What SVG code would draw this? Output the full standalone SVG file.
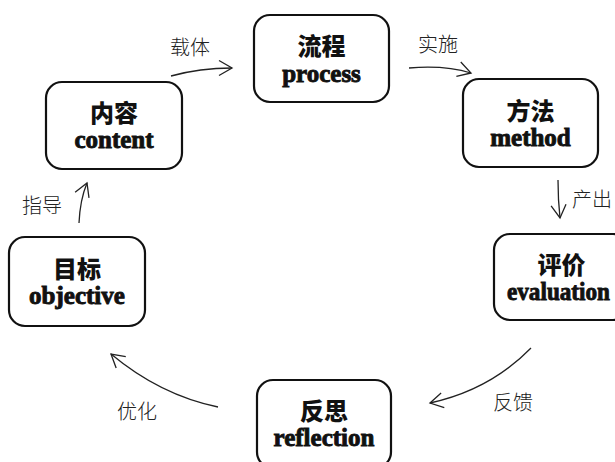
<svg xmlns="http://www.w3.org/2000/svg" width="615" height="462" viewBox="0 0 615 462">
<style>
.box{fill:#fff;stroke:#111;stroke-width:2.2}
.zh{font-family:"Noto Sans CJK SC",sans-serif;font-weight:900;font-size:24px;fill:#111;text-anchor:middle}
.en{font-family:"Liberation Serif","Times New Roman",serif;font-weight:700;font-size:25px;fill:#111;stroke:#111;stroke-width:0.9;text-anchor:middle}
.lbl{font-family:"Noto Sans CJK SC",sans-serif;font-weight:300;font-size:20px;fill:#222}
.edge{fill:none;stroke:#222;stroke-width:1.3}
</style>
<defs>
<marker id="ah" markerUnits="userSpaceOnUse" markerWidth="20" markerHeight="20" refX="0" refY="0" viewBox="-15 -10 17 20" orient="auto" overflow="visible">
<path d="M-13,-7.5 L0,0 L-13,7.5" fill="none" stroke="#222" stroke-width="1.3" stroke-linejoin="miter"/>
</marker>
</defs>
<rect width="615" height="462" fill="#fff"/>
<g id="connectors">
<path class="edge" d="M171,76 Q200,68 232,68" marker-end="url(#ah)"/>
<path class="edge" d="M409,68 Q445,65 471,73" marker-end="url(#ah)"/>
<path class="edge" d="M558,180 Q558,200 560,218" marker-end="url(#ah)"/>
<path class="edge" d="M79,223 Q80,200 87,183" marker-end="url(#ah)"/>
<path class="edge" d="M531,348 Q490,390 430,403" marker-end="url(#ah)"/>
<path class="edge" d="M218,407 Q160,395 111,354" marker-end="url(#ah)"/>
<text class="lbl" x="170" y="55">载体</text>
<text class="lbl" x="418" y="52">实施</text>
<text class="lbl" x="572" y="207">产出</text>
<text class="lbl" x="22" y="213">指导</text>
<text class="lbl" x="117" y="419">优化</text>
<text class="lbl" x="493" y="410">反馈</text>
</g>
<g id="content">
<rect class="box" x="46" y="82" width="136" height="87" rx="16"/>
<text class="zh" x="114" y="122">内容</text>
<text class="en" x="114" y="148">content</text>
</g>
<g id="process">
<rect class="box" x="254" y="15" width="135" height="87" rx="16"/>
<text class="zh" x="321.5" y="55">流程</text>
<text class="en" x="321.5" y="82">process</text>
</g>
<g id="method">
<rect class="box" x="463" y="79" width="135" height="88" rx="16"/>
<text class="zh" x="530.5" y="120">方法</text>
<text class="en" x="530.5" y="146">method</text>
</g>
<g id="evaluation">
<rect class="box" x="494" y="234" width="135" height="86" rx="16"/>
<text class="zh" x="561.5" y="274">评价</text>
<text class="en" x="507" y="300" style="text-anchor:start" textLength="103" lengthAdjust="spacingAndGlyphs">evaluation</text>
</g>
<g id="objective">
<rect class="box" x="9" y="237" width="136" height="89" rx="16"/>
<text class="zh" x="77" y="278">目标</text>
<text class="en" x="77" y="304">objective</text>
</g>
<g id="reflection">
<rect class="box" x="257" y="380" width="134" height="88" rx="16"/>
<text class="zh" x="324" y="420">反思</text>
<text class="en" x="324" y="446">reflection</text>
</g>
</svg>
